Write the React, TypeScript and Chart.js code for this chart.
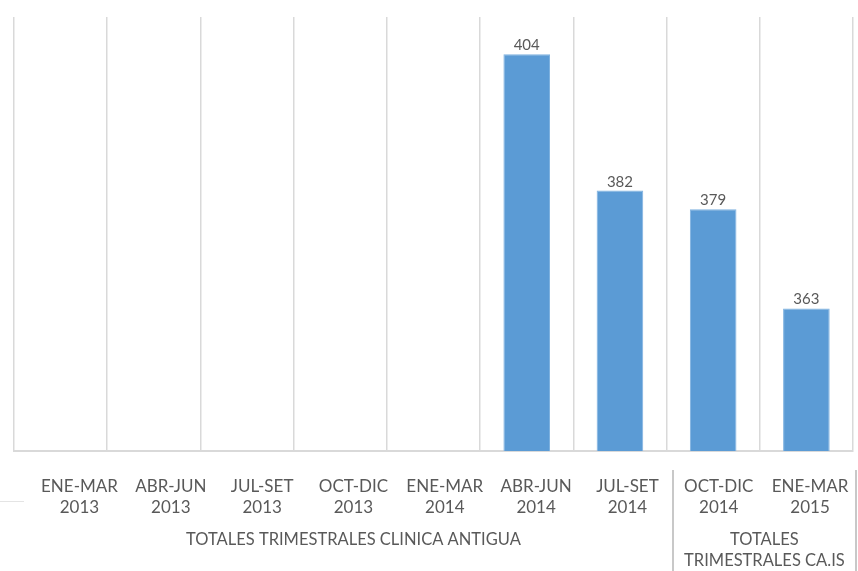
import React, { useEffect, useRef } from "react";
import { Chart, registerables } from "chart.js";

Chart.register(...registerables);

const categories: string[][] = [
  ["ENE-MAR", "2013"],
  ["ABR-JUN", "2013"],
  ["JUL-SET", "2013"],
  ["OCT-DIC", "2013"],
  ["ENE-MAR", "2014"],
  ["ABR-JUN", "2014"],
  ["JUL-SET", "2014"],
  ["OCT-DIC", "2014"],
  ["ENE-MAR", "2015"],
];
const values: (number | null)[] = [null, null, null, null, null, 404, 382, 379, 363];
const yMin = 340;
const yMax = 410;
const groupLabels: string[][] = [
  ["TOTALES TRIMESTRALES CLINICA ANTIGUA"],
  ["TOTALES", "TRIMESTRALES CA.IS"],
];
const groupRanges: number[][] = [
  [0, 6],
  [7, 8],
];
// label band range (the label row is slightly offset from the bars in the source)
const labelMin = -0.717;
const labelMax = 8.47;

const TEXT = "#595959";
const FONT = "Lato, 'Open Sans', sans-serif";

const overlayPlugin = {
  id: "overlay",
  afterDatasetsDraw(chart: any) {
    const ctx = chart.ctx as CanvasRenderingContext2D;
    const xl = chart.scales.xl;
    const area = chart.chartArea;
    ctx.save();
    // data labels
    const meta = chart.getDatasetMeta(0);
    ctx.fillStyle = TEXT;
    ctx.font = `15px ${FONT}`;
    ctx.textAlign = "center";
    ctx.textBaseline = "alphabetic";
    meta.data.forEach((el: any, i: number) => {
      const v = values[i];
      if (v == null) return;
      ctx.fillText(String(v), el.x, el.y - 4);
    });
    // group labels
    ctx.font = `16.5px ${FONT}`;
    ctx.textBaseline = "middle";
    groupLabels.forEach((lines, g) => {
      const [a, b] = groupRanges[g];
      const cx = xl.getPixelForValue((a + b) / 2);
      lines.forEach((line, j) => {
        ctx.fillText(line, cx, xl.top + 89 + j * 21);
      });
    });
    // group separators
    ctx.strokeStyle = "#c8c8c8";
    ctx.lineWidth = 2;
    groupRanges.forEach(([, b]) => {
      const px = Math.round(xl.getPixelForValue(b + 0.5));
      ctx.beginPath();
      ctx.moveTo(px, xl.top + 19);
      ctx.lineTo(px, chart.height);
      ctx.stroke();
    });
    // short left tick line
    ctx.strokeStyle = "#e4e4e4";
    ctx.lineWidth = 1;
    ctx.beginPath();
    ctx.moveTo(0, xl.top + 50.5);
    ctx.lineTo(area.left + 10, xl.top + 50.5);
    ctx.stroke();
    ctx.restore();
  },
};

export default function App() {
  const ref = useRef<HTMLCanvasElement | null>(null);
  useEffect(() => {
    if (!ref.current) return;
    const chart = new Chart(ref.current, {
      type: "bar",
      data: {
        labels: categories,
        datasets: [
          {
            data: values,
            backgroundColor: "#5b9bd5",
            borderColor: "#7fb2e0",
            borderWidth: 1,
            categoryPercentage: 1,
            barPercentage: 0.5,
            xAxisID: "x",
          },
        ],
      },
      options: {
        animation: false,
        responsive: false,
        maintainAspectRatio: false,
        layout: { padding: { left: 14, right: 5, top: 17, bottom: 53 } },
        plugins: {
          legend: { display: false },
          tooltip: { enabled: false },
        },
        scales: {
          x: {
            offset: true,
            afterFit(scale: any) {
              scale.height = 0;
              scale.paddingLeft = 0;
              scale.paddingRight = 0;
            },
            grid: {
              display: true,
              offset: true,
              color: "#d9d9d9",
              lineWidth: 1.5,
              drawTicks: false,
            },
            border: { display: true, color: "#d9d9d9", width: 2 },
            ticks: { display: false },
          },
          xl: {
            type: "linear",
            axis: "x",
            position: "bottom",
            offset: false,
            bounds: "data",
            min: labelMin,
            max: labelMax,
            afterDataLimits(scale: any) {
              scale.min = labelMin;
              scale.max = labelMax;
            },
            afterBuildTicks(scale: any) {
              scale.ticks = categories.map((_, i) => ({ value: i }));
            },
            afterFit(scale: any) {
              scale.height = 67;
              scale.paddingLeft = 0;
              scale.paddingRight = 0;
            },
            grid: { display: false, drawTicks: false, offset: false },
            border: { display: false },
            ticks: {
              color: TEXT,
              font: { family: FONT, size: 17, lineHeight: 21 / 17 },
              padding: 25,
              maxRotation: 0,
              minRotation: 0,
              autoSkip: false,
              callback: (value: any) => {
                const v = Number(value);
                return Number.isInteger(v) && categories[v] ? categories[v] : "";
              },
            },
          },
          y: {
            display: false,
            min: yMin,
            max: yMax,
          },
        },
      },
      plugins: [overlayPlugin],
    });
    return () => chart.destroy();
  }, []);
  return (
    <div style={{ position: "fixed", left: 0, top: 0, width: 858, height: 571, background: "#fff" }}>
      <canvas ref={ref} width={858} height={571} style={{ display: "block" }} />
    </div>
  );
}
